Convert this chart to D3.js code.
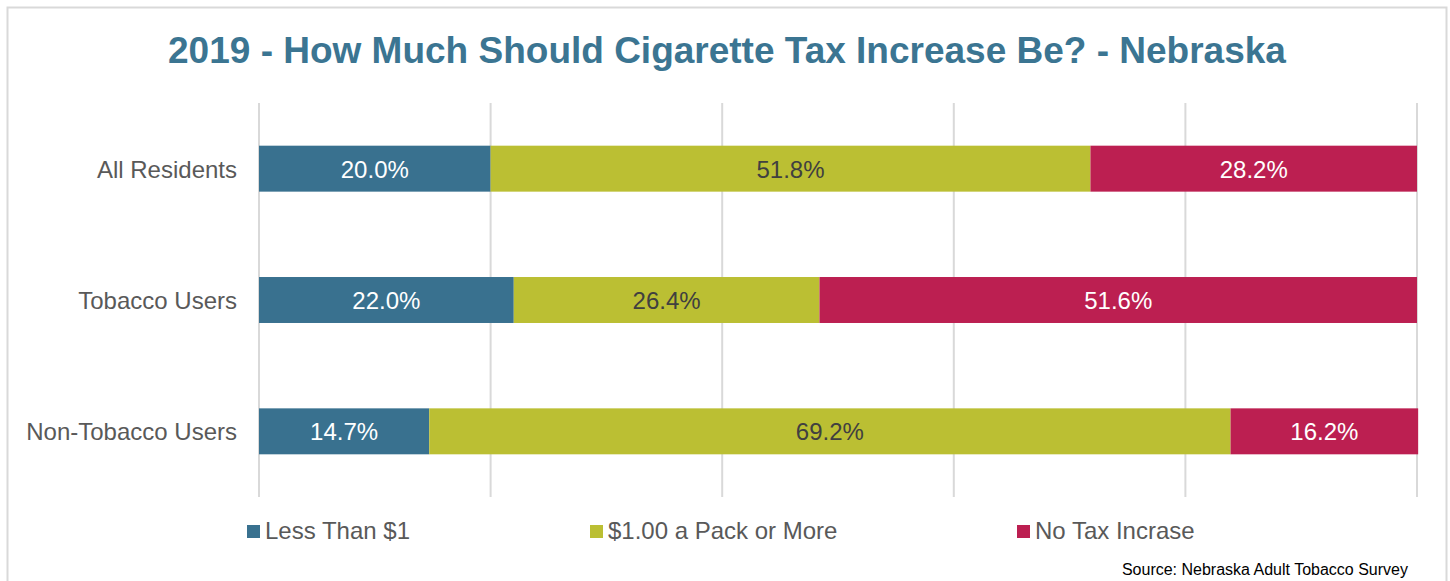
<!DOCTYPE html>
<html><head><meta charset="utf-8">
<script src="https://cdn.jsdelivr.net/npm/d3@7"></script>
<style>body{margin:0;background:#fff;}svg{display:block;font-family:"Liberation Sans",Arial,sans-serif;}</style>
</head><body>
<svg id="c" width="1450" height="581"></svg>
<script>
const categories = ["All Residents", "Tobacco Users", "Non-Tobacco Users"];
const seriesNames = ["Less Than $1", "$1.00 a Pack or More", "No Tax Incrase"];
const lessThan1 = [20.0, 22.0, 14.7];
const onePackOrMore = [51.8, 26.4, 69.2];
const noTaxIncrease = [28.2, 51.6, 16.2];
const xTicks = [0, 20, 40, 60, 80, 100];
const colors = ["#39718f", "#bbbf33", "#bc1f51"];
const labelColors = ["#ffffff", "#404040", "#ffffff"];

const svg = d3.select("#c");
svg.append("rect").attr("x",7.5).attr("y",7.5).attr("width",1439).attr("height",590)
  .attr("fill","#fff").attr("stroke","#d9d9d9").attr("stroke-width",2);

svg.append("text").attr("x",727).attr("y",63).attr("text-anchor","middle")
  .attr("font-size",37).attr("font-weight","bold").attr("fill","#3b7592")
  .text("2019 - How Much Should Cigarette Tax Increase Be? - Nebraska");

const x = d3.scaleLinear().domain([0,100]).range([259,1417]);
const y = d3.scaleBand().domain(categories).range([103,497]).paddingInner(0.65).paddingOuter(0.325);

svg.append("g").selectAll("line").data(xTicks).join("line")
  .attr("x1",d=>x(d)).attr("x2",d=>x(d)).attr("y1",103).attr("y2",497)
  .attr("stroke","#d9d9d9").attr("stroke-width",2);

const rows = categories.map((c,i)=>({cat:c, v:[lessThan1[i], onePackOrMore[i], noTaxIncrease[i]]}));
const stackData = rows.map(r=>{const o={cat:r.cat}; seriesNames.forEach((s,j)=>o[s]=r.v[j]); return o;});
const stack = d3.stack().keys(seriesNames)(stackData);

stack.forEach((layer,j)=>{
  const g = svg.append("g");
  g.selectAll("rect").data(layer).join("rect")
    .attr("x",d=>x(d[0])).attr("width",d=>x(d[1])-x(d[0]))
    .attr("y",d=>y(d.data.cat)).attr("height",y.bandwidth())
    .attr("fill",colors[j]);
  g.selectAll("text").data(layer).join("text")
    .attr("x",d=>(x(d[0])+x(d[1]))/2).attr("y",d=>y(d.data.cat)+y.bandwidth()/2+9)
    .attr("text-anchor","middle").attr("font-size",24).attr("fill",labelColors[j])
    .text(d=>(d[1]-d[0]).toFixed(1)+"%");
});

const yAxis = svg.append("g").attr("transform","translate(237,0)")
  .call(d3.axisLeft(y).tickSize(0).tickPadding(0));
yAxis.select(".domain").remove();
yAxis.selectAll("text").attr("font-size",24).attr("fill","#595959").attr("dy",null).attr("y",9)
  .attr("font-family","Liberation Sans, Arial, sans-serif");

const legX = [247, 590, 1017];
const leg = svg.append("g");
seriesNames.forEach((s,j)=>{
  leg.append("rect").attr("x",legX[j]).attr("y",525).attr("width",13).attr("height",13).attr("fill",colors[j]);
  leg.append("text").attr("x",legX[j]+18).attr("y",539).attr("font-size",24).attr("fill","#595959").text(s);
});

svg.append("text").attr("x",1408).attr("y",575).attr("text-anchor","end")
  .attr("font-size",16).attr("fill","#000").text("Source: Nebraska Adult Tobacco Survey");
</script>
</body></html>
